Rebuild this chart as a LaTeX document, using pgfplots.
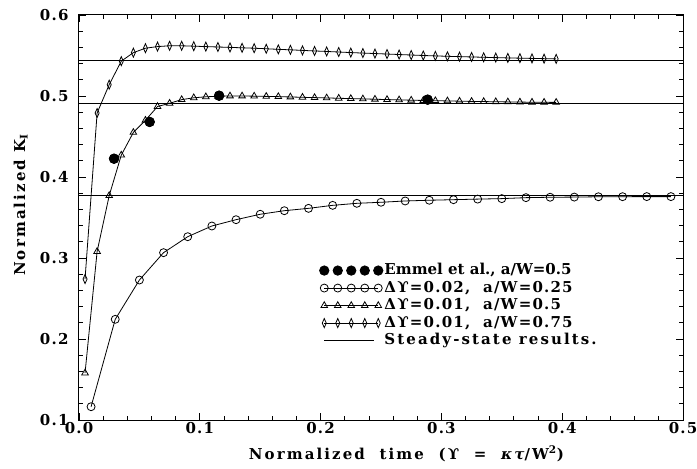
\documentclass[border=0pt]{standalone}
\usepackage{fontspec}
\setmainfont{DejaVu Serif}[LetterSpace=8]
\newfontfamily\wideface{DejaVu Serif}[LetterSpace=14]
\newfontfamily\plainface{DejaVu Serif}[LetterSpace=0]
\usepackage{pgfplots}
\pgfplotsset{compat=1.18}
\newcommand{\chartfont}{\fontsize{15bp}{18bp}\selectfont\bfseries}

\pgfplotstableread{
x y
0.005 0.274
0.015 0.479
0.025 0.514
0.035 0.543
0.045 0.5535
0.055 0.559
0.065 0.561
0.075 0.562
0.085 0.562
0.095 0.5615
0.105 0.561
0.115 0.5605
0.125 0.5600
0.135 0.5595
0.145 0.5590
0.155 0.5583
0.165 0.5576
0.175 0.5570
0.185 0.5563
0.195 0.5556
0.205 0.5550
0.215 0.5543
0.225 0.5536
0.235 0.5530
0.245 0.5524
0.255 0.5518
0.265 0.5512
0.275 0.5506
0.285 0.5500
0.295 0.5495
0.305 0.5490
0.315 0.5486
0.325 0.5482
0.335 0.5478
0.345 0.5474
0.355 0.5470
0.365 0.5467
0.375 0.5464
0.385 0.5461
0.395 0.5458
}\diamonddata

\pgfplotstableread{
x y
0.005 0.158
0.015 0.308
0.025 0.377
0.035 0.427
0.045 0.455
0.055 0.470
0.065 0.487
0.075 0.491
0.085 0.4955
0.095 0.4978
0.105 0.4990
0.115 0.4997
0.125 0.5000
0.135 0.5000
0.145 0.4998
0.155 0.4995
0.165 0.4992
0.175 0.4988
0.185 0.4984
0.195 0.4980
0.205 0.4976
0.215 0.4972
0.225 0.4968
0.235 0.4964
0.245 0.4960
0.255 0.4956
0.265 0.4952
0.275 0.4948
0.285 0.4945
0.295 0.4942
0.305 0.4939
0.315 0.4936
0.325 0.4933
0.335 0.4931
0.345 0.4929
0.355 0.4927
0.365 0.4925
0.375 0.4923
0.385 0.4922
0.395 0.4921
}\triangledata

\pgfplotstableread{
x y
0.01 0.1164
0.03 0.2243
0.05 0.2728
0.07 0.3066
0.09 0.3263
0.11 0.3395
0.13 0.3473
0.15 0.3540
0.17 0.3584
0.19 0.3613
0.21 0.3650
0.23 0.3675
0.25 0.3688
0.27 0.3704
0.29 0.3713
0.31 0.3720
0.33 0.3727
0.35 0.3733
0.37 0.3745
0.39 0.3750
0.41 0.3752
0.43 0.3756
0.45 0.3757
0.47 0.3758
0.49 0.3758
}\circledata

\pgfplotstableread{
x y
0.029 0.4226
0.0585 0.4680
0.116 0.5004
0.2886 0.4955
}\emmeldata

\begin{document}
\begin{tikzpicture}
\pgfplotsset{
  fivemarks/.style={legend image code/.code={
    \draw[mark repeat=1,mark phase=1,##1] plot coordinates {(0bp,0bp) (13.5bp,0bp) (27bp,0bp) (40.5bp,0bp) (54bp,0bp)};}},
  fivedots/.style={legend image code/.code={
    \draw[mark repeat=1,mark phase=1,##1,draw=none] plot coordinates {(0bp,0bp) (13.5bp,0bp) (27bp,0bp) (40.5bp,0bp) (54bp,0bp)};}},
  lineonly/.style={legend image code/.code={
    \draw[##1] (0bp,0bp) -- (50bp,0bp);}},
}
\begin{axis}[
  scale only axis,
  width=604bp, height=405bp,
  xmin=0, xmax=0.5, ymin=0.1, ymax=0.6,
  xtick={0,0.1,...,0.5}, ytick={0.1,0.2,...,0.6},
  minor x tick num=4, minor y tick num=4,
  major tick length=7bp, minor tick length=4bp,
  tick style={black, line width=0.8bp},
  axis line style={line width=1bp},
  /pgf/number format/assume math mode=true,
  /pgf/number format/fixed, /pgf/number format/fixed zerofill, /pgf/number format/precision=1,
  tick label style={font=\chartfont},
  yticklabel style={xshift=-7bp},
  xticklabel style={yshift=1bp},
  xlabel={\chartfont\wideface\bfseries Normalized\ \ time\ \ (ϒ\ \ =\ \ {\itshape κτ}/W\textsuperscript{2})},
  ylabel={\chartfont\wideface\bfseries Normalized\ K\textsubscript{I}},
  every axis x label/.style={at={(axis description cs:0.542,-0.0963)}, anchor=base},
  every axis y label/.style={at={(axis description cs:-0.0894,0.531)}, anchor=base, rotate=90},
  legend style={at={(axis description cs:0.393,0.396)}, anchor=north west, draw=none, fill=none,
    font=\chartfont,
    row sep=0pt, nodes={inner sep=1.5bp, text height=11.5bp, text depth=3bp}},
  legend cell align=left,
  every axis plot/.append style={line width=0.8bp},
]
\addplot[black, only marks, mark=*, mark size=4.7bp, fivedots] table {\emmeldata};
\addlegendentry{\plainface\bfseries Emmel et al., a/W=0.5}
\addplot[black, mark=o, mark size=4bp, mark options={solid}, fivemarks] table {\circledata};
\addlegendentry{Δϒ=0.02,\ \ a/W=0.25}
\addplot[black, mark=triangle, mark size=3.8bp, mark options={solid}, fivemarks] table {\triangledata};
\addlegendentry{Δϒ=0.01,\ \ a/W=0.5}
\addplot[black, mark=diamond, mark size=4.5bp, mark options={solid, xscale=0.6}, fivemarks] table {\diamonddata};
\addlegendentry{Δϒ=0.01,\ \ a/W=0.75}
\addplot[black, no marks, lineonly] coordinates {(0,0.5436) (0.5,0.5436)};
\addlegendentry{\wideface\bfseries Steady-state results.}
\addplot[black, no marks, forget plot] coordinates {(0,0.491) (0.5,0.491)};
\addplot[black, no marks, forget plot] coordinates {(0,0.377) (0.5,0.377)};
\addplot[black, only marks, mark=*, mark size=4.7bp, forget plot] table {\emmeldata};
\end{axis}
\pgfresetboundingbox
\path[use as bounding box] (-79bp,-49bp) rectangle (618bp,420bp);
\end{tikzpicture}
\end{document}
